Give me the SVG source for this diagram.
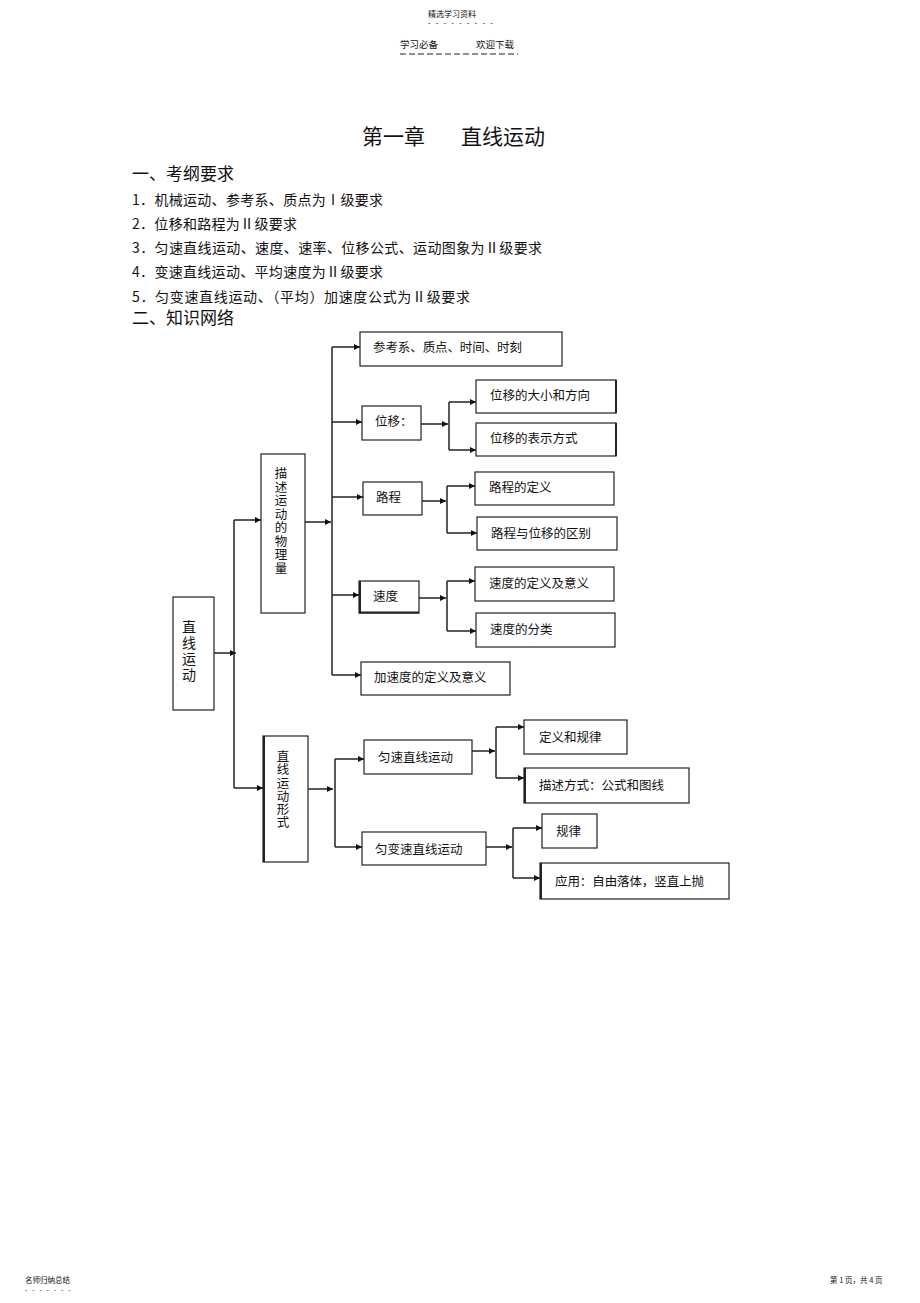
<svg xmlns="http://www.w3.org/2000/svg" width="920" height="1303" viewBox="0 0 920 1303">
<style>
text{font-family:"Noto Sans CJK SC","Noto Sans",sans-serif;fill:#111}
.box{fill:#fff;stroke:#222;stroke-width:1.2}
.bt{font-size:12.5px}
.vt{writing-mode:vertical-rl;text-orientation:upright}
.ln{fill:none;stroke:#222;stroke-width:1.5}
.h{font-size:14px}
.sm{font-size:8px}
</style>
<defs>
<marker id="ar" viewBox="0 0 10 10" refX="10" refY="5" markerWidth="9" markerHeight="6" markerUnits="userSpaceOnUse" orient="auto">
<path d="M0,0 L10,5 L0,10 z" fill="#111"/>
</marker>
</defs>
<rect width="920" height="1303" fill="#fff"/>

<g id="header">
<text x="428" y="17" class="sm">精选学习资料</text>
<text x="428" y="26" class="sm" letter-spacing="1.6">- - - - - - - - -</text>
<text x="400" y="48" font-size="9.5">学习必备</text>
<text x="476" y="48" font-size="9.5">欢迎下载</text>
<line x1="400" y1="54" x2="518" y2="54" stroke="#222" stroke-width="1" stroke-dasharray="6,3"/>
</g>

<g id="title">
<text x="362" y="144" font-size="21">第一章</text>
<text x="461" y="144" font-size="21">直线运动</text>
<text x="132" y="180" font-size="17">一、考纲要求</text>
<text x="132" y="205" class="h" textLength="251">1．机械运动、参考系、质点为Ⅰ级要求</text>
<text x="132" y="229" class="h" textLength="165">2．位移和路程为Ⅱ级要求</text>
<text x="132" y="253" class="h" textLength="410">3．匀速直线运动、速度、速率、位移公式、运动图象为Ⅱ级要求</text>
<text x="132" y="277" class="h" textLength="251">4．变速直线运动、平均速度为Ⅱ级要求</text>
<text x="132" y="302" class="h" textLength="338">5．匀变速直线运动、（平均）加速度公式为Ⅱ级要求</text>
<text x="132" y="324" font-size="17">二、知识网络</text>
</g>

<g id="connectors">
<path class="ln" d="M214,653 H236" marker-end="url(#ar)"/>
<path class="ln" d="M234,520 V788"/>
<path class="ln" d="M234,520 H261" marker-end="url(#ar)"/>
<path class="ln" d="M234,788 H263" marker-end="url(#ar)"/>
<path class="ln" d="M305,522 H331" marker-end="url(#ar)"/>
<path class="ln" d="M332,347 V675"/>
<path class="ln" d="M332,347 H360" marker-end="url(#ar)"/>
<path class="ln" d="M332,422 H362" marker-end="url(#ar)"/>
<path class="ln" d="M332,497 H363" marker-end="url(#ar)"/>
<path class="ln" d="M332,595 H359" marker-end="url(#ar)"/>
<path class="ln" d="M332,675 H361" marker-end="url(#ar)"/>
<path class="ln" d="M421,424 H448" marker-end="url(#ar)"/>
<path class="ln" d="M449,402 V450"/>
<path class="ln" d="M449,402 H476" marker-end="url(#ar)"/>
<path class="ln" d="M449,450 H476" marker-end="url(#ar)"/>
<path class="ln" d="M422,501 H446" marker-end="url(#ar)"/>
<path class="ln" d="M447,486 V533"/>
<path class="ln" d="M447,486 H475" marker-end="url(#ar)"/>
<path class="ln" d="M447,533 H477" marker-end="url(#ar)"/>
<path class="ln" d="M419,598 H446" marker-end="url(#ar)"/>
<path class="ln" d="M447,581 V631"/>
<path class="ln" d="M447,581 H475" marker-end="url(#ar)"/>
<path class="ln" d="M447,631 H476" marker-end="url(#ar)"/>
<path class="ln" d="M308,789 H333" marker-end="url(#ar)"/>
<path class="ln" d="M335,759 V847"/>
<path class="ln" d="M335,759 H364" marker-end="url(#ar)"/>
<path class="ln" d="M335,847 H362" marker-end="url(#ar)"/>
<path class="ln" d="M472,751 H495" marker-end="url(#ar)"/>
<path class="ln" d="M496,727 V778"/>
<path class="ln" d="M496,727 H524" marker-end="url(#ar)"/>
<path class="ln" d="M496,778 H524" marker-end="url(#ar)"/>
<path class="ln" d="M486,847 H512" marker-end="url(#ar)"/>
<path class="ln" d="M513,828 V878"/>
<path class="ln" d="M513,828 H542" marker-end="url(#ar)"/>
<path class="ln" d="M513,878 H540" marker-end="url(#ar)"/>
</g>

<g id="n-zhixian">
<rect class="box" x="173" y="597" width="41" height="113"/>
<text x="189" y="620" class="vt" font-size="14" letter-spacing="1.8">直线运动</text>
</g>
<g id="n-miaoshu">
<rect class="box" x="261" y="454" width="44" height="159"/>
<text x="281" y="467" class="vt bt" letter-spacing="1">描述运动的物理量</text>
</g>
<g id="n-xingshi">
<rect class="box" x="263" y="736" width="45" height="126"/>
<line x1="264" y1="736" x2="264" y2="862" stroke="#222" stroke-width="2"/>
<text x="283" y="750" class="vt bt" letter-spacing="0.8">直线运动形式</text>
</g>
<g id="n-cankao">
<rect class="box" x="360" y="332" width="202" height="34"/>
<text x="373" y="352" class="bt" textLength="149">参考系、质点、时间、时刻</text>
</g>
<g id="n-weiyi">
<rect class="box" x="362" y="406" width="59" height="34"/>
<text x="375" y="426" class="bt">位移：</text>
</g>
<g id="n-weiyi-daxiao">
<rect class="box" x="476" y="380" width="140" height="33"/>
<line x1="616" y1="380" x2="616" y2="413" stroke="#222" stroke-width="2"/>
<text x="490" y="400" class="bt">位移的大小和方向</text>
</g>
<g id="n-weiyi-biaoshi">
<rect class="box" x="476" y="423" width="140" height="33"/>
<line x1="616" y1="423" x2="616" y2="456" stroke="#222" stroke-width="2"/>
<text x="490" y="443" class="bt">位移的表示方式</text>
</g>
<g id="n-lucheng">
<rect class="box" x="363" y="482" width="59" height="33"/>
<text x="376" y="502" class="bt">路程</text>
</g>
<g id="n-lucheng-dingyi">
<rect class="box" x="475" y="472" width="139" height="33"/>
<text x="489" y="492" class="bt">路程的定义</text>
</g>
<g id="n-lucheng-qubie">
<rect class="box" x="477" y="517" width="140" height="33"/>
<text x="491" y="538" class="bt">路程与位移的区别</text>
</g>
<g id="n-sudu">
<rect class="box" x="359" y="581" width="60" height="32"/>
<line x1="360" y1="581" x2="360" y2="613" stroke="#222" stroke-width="2"/>
<line x1="359" y1="612.5" x2="419" y2="612.5" stroke="#222" stroke-width="2"/>
<text x="373" y="601" class="bt">速度</text>
</g>
<g id="n-sudu-dingyi">
<rect class="box" x="475" y="567" width="139" height="34"/>
<text x="489" y="588" class="bt">速度的定义及意义</text>
</g>
<g id="n-sudu-fenlei">
<rect class="box" x="476" y="613" width="139" height="34"/>
<text x="490" y="634" class="bt">速度的分类</text>
</g>
<g id="n-jiasudu">
<rect class="box" x="361" y="662" width="149" height="33"/>
<text x="374" y="682" class="bt">加速度的定义及意义</text>
</g>
<g id="n-yunsu">
<rect class="box" x="364" y="740" width="108" height="34"/>
<text x="378" y="762" class="bt">匀速直线运动</text>
</g>
<g id="n-yunsu-dingyi">
<rect class="box" x="524" y="720" width="103" height="34"/>
<text x="539" y="742" class="bt">定义和规律</text>
</g>
<g id="n-yunsu-miaoshu">
<rect class="box" x="524" y="768" width="165" height="35"/>
<line x1="525" y1="768" x2="525" y2="803" stroke="#222" stroke-width="2"/>
<text x="539" y="790" class="bt">描述方式：公式和图线</text>
</g>
<g id="n-yunbian">
<rect class="box" x="362" y="832" width="124" height="33"/>
<text x="375" y="854" class="bt">匀变速直线运动</text>
</g>
<g id="n-guilv">
<rect class="box" x="542" y="814" width="55" height="34"/>
<text x="556" y="836" class="bt">规律</text>
</g>
<g id="n-yingyong">
<rect class="box" x="540" y="863" width="189" height="36"/>
<line x1="541" y1="863" x2="541" y2="899" stroke="#222" stroke-width="2"/>
<text x="555" y="886" class="bt" textLength="149">应用：自由落体，竖直上抛</text>
</g>

<g id="footer">
<text x="25" y="1283" font-size="7.5">名师归纳总结</text>
<text x="25" y="1292" font-size="7" letter-spacing="1.6">- - - - - - -</text>
<text x="830" y="1283" font-size="7.5">第 1 页，共 4 页</text>
</g>
</svg>
